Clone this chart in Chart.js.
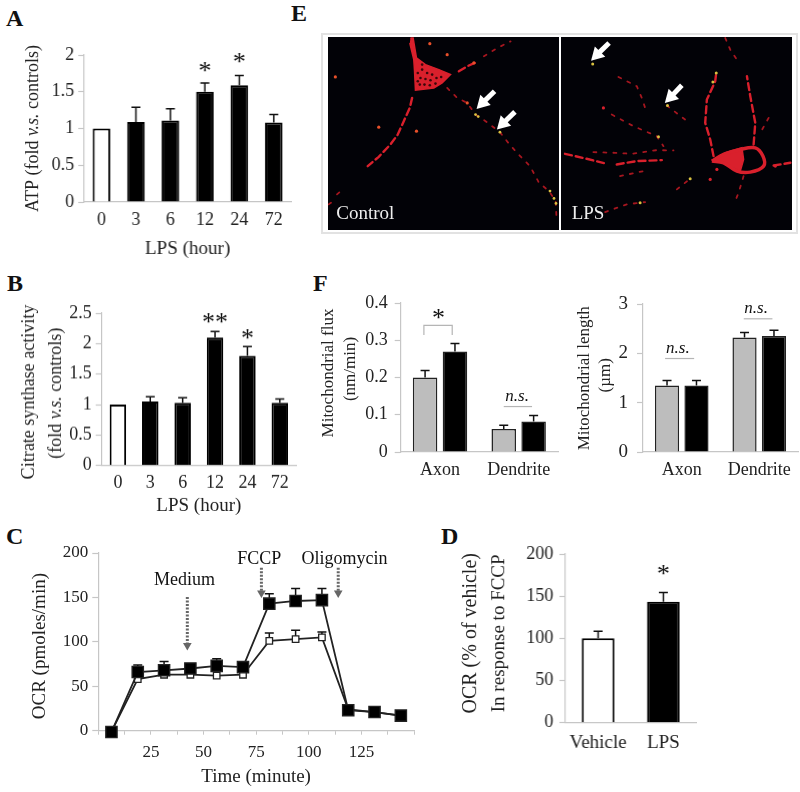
<!DOCTYPE html>
<html lang="en">
<head>
<meta charset="UTF-8">
<title>LPS mitochondria figure</title>
<script src="https://cdn.jsdelivr.net/npm/chart.js"></script>
<style>
  body { margin: 0; background: #fff; width: 800px; height: 792px; overflow: hidden; position: relative; }
  canvas { position: absolute; }
  .letter { position: absolute; font: bold 24px "Liberation Serif", serif; color: #111; line-height: 24px; }
  #frame { position: absolute; left: 321px; top: 33px; width: 473px; height: 197px; border: 2px solid #e2e2e2; }
</style>
</head>
<body>
<div class="letter" style="left:6px;top:6px">A</div>
<div class="letter" style="left:7px;top:271px">B</div>
<div class="letter" style="left:6px;top:524px">C</div>
<div class="letter" style="left:441px;top:524px">D</div>
<div class="letter" style="left:291px;top:1px">E</div>
<div class="letter" style="left:313px;top:271px">F</div>
<div id="frame"></div>

<script>
// Panel A
const hours = ['0', '3', '6', '12', '24', '72'];
const atpValues = [1, 1.09, 1.11, 1.5, 1.59, 1.08];
const atpTops = [null, 1.29, 1.27, 1.62, 1.72, 1.19];

// Panel B
const citrateValues = [1, 1.05, 1.03, 2.1, 1.8, 1.03];
const citrateTops = [null, 1.13, 1.11, 2.2, 1.95, 1.09];

// Panel C
const minutes = [6.25, 18.75, 31.25, 43.75, 56.25, 68.75, 81.25, 93.75, 106.25, 118.75, 131.25, 143.75];
const ocrVehicle = [-1, 58, 63, 63, 62, 63, 101, 103, 105, 24, 21, 17];
const ocrVehicleTops = [null, 60, 70, 70, 70, 68, 110, 113, 111, null, null, null];
const ocrLps = [-1.5, 66, 68, 70, 73, 71.5, 143, 146, 147, 23, 21, 17];
const ocrLpsTops = [null, 74, 78, 75, 81, 76, 154, 160, 160, null, null, null];
const arrowMedium = [[42.3, 150.6], [42.3, 96]];
const arrowFccp = [[77.5, 183.5], [77.5, 155]];
const arrowOligo = [[114, 183.5], [114, 155]];

// Panel D
const ocrGroups = ['Vehicle', 'LPS'];
const fccpValues = [100, 143.5];
const fccpTops = [108.5, 154.5];

// Panel F
const regions = ['Axon', 'Dendrite'];
const fluxControl = [0.2, 0.062];
const fluxControlTops = [0.219, 0.072];
const fluxLps = [0.27, 0.082];
const fluxLpsTops = [0.291, 0.098];
const lengthControl = [1.35, 2.32];
const lengthControlTops = [1.45, 2.42];
const lengthLps = [1.35, 2.35];
const lengthLpsTops = [1.45, 2.47];

// Panel E, traces
const ctrlSoma = [[300,55],[308,55],[318,115],[345,135],[385,150],[420,165],[395,190],[370,205],[315,212],[312,150],[310,120],[298,70]];
const ctrlHoles = [[335,150],[350,160],[365,165],[330,175],[345,178],[360,182],[378,175],[392,172],[328,195],[342,195],[358,197],[375,192],[322,160],[335,135],[322,185]];
const ctrlBold = [
  [[305,235],[298,265],[280,305],[262,345],[240,375],[205,412],[172,440]],
  [[445,155],[470,140],[497,128]]
];
const ctrlTraces = [
  [[520,110],[560,85],[600,65]],
  [[410,205],[440,235],[470,250],[495,285],[525,305],[568,338],[597,375],[622,403],[658,440],[685,490],[715,515],[735,545],[738,605]],
  [[80,525],[95,512]],
  [[55,555],[62,550]]
];
const ctrlDots = [[318,335],[205,323],[410,105],[358,72],[75,172],[470,250],[490,130]];
const ctrlYellow = [[495,285],[503,291],[568,338],[718,515],[730,537],[736,552]];
const ctrlArrows = [[[552,215],[516,250]], [[613,277],[577,312]]];

const lpsSoma = [[1205,425],[1245,400],[1295,385],[1300,420],[1290,455],[1245,435]];
const lpsRing = [[1205,425],[1240,405],[1290,390],[1335,385],[1358,410],[1360,440],[1320,458],[1280,455],[1240,430],[1205,425]];
const lpsBold = [
  [[1210,410],[1200,360],[1185,310],[1190,240],[1215,185],[1218,160]],
  [[1330,375],[1335,310],[1320,230],[1310,170]],
  [[1390,438],[1440,430]],
  [[765,403],[830,418],[890,433]],
  [[920,435],[980,425],[1055,422]]
];
const lpsTraces = [
  [[1375,295],[1350,340]],
  [[1245,55],[1260,90],[1280,120]],
  [[1300,470],[1285,520],[1275,545]],
  [[850,398],[915,400],[965,403],[1040,392],[1090,393]],
  [[905,285],[970,320],[1040,350],[1060,380]],
  [[925,172],[980,200],[995,235],[1010,280]],
  [[1070,258],[1140,312]],
  [[885,578],[950,555],[1005,548]],
  [[1100,510],[1140,478]],
  [[930,470],[1000,455]]
];
const lpsDots = [[1395,440],[880,265],[1220,450],[1200,480]];
const lpsYellow = [[848,133],[1072,258],[1208,187],[1218,160],[1140,478],[990,550],[1045,352]];
const lpsArrows = [[[897,70],[861,105]], [[1115,197],[1082,232]]];

const SERIF = '"Liberation Serif", serif';
const AXIS = '#c6c6c6';
const RED = '#d9202c';
const DIM = '#a5161f';
const YELLOW = '#d8c040';

// error bars go up from the bar or marker to dataset.errTop
const errorBars = {
  id: 'errorBars',
  beforeDatasetsDraw(chart) {
    const c = chart.ctx, ys = chart.scales.y;
    chart.data.datasets.forEach((ds, i) => {
      if (!ds.errTop) return;
      chart.getDatasetMeta(i).data.forEach((el, k) => {
        if (ds.errTop[k] == null) return;
        const y = ys.getPixelForValue(ds.errTop[k]);
        c.save();
        c.strokeStyle = '#111';
        c.lineWidth = 1.5;
        c.beginPath();
        c.moveTo(el.x, el.y); c.lineTo(el.x, y);
        c.moveTo(el.x - 4.5, y); c.lineTo(el.x + 4.5, y);
        c.stroke();
        c.restore();
      });
    });
  }
};

// stars, n.s. labels and brackets, placed in data units
const notes = {
  id: 'notes',
  afterDatasetsDraw(chart, args, opts) {
    const c = chart.ctx, xs = chart.scales.x, ys = chart.scales.y;
    (opts.rules || []).forEach(r => {
      c.save();
      c.strokeStyle = '#b5b5b5';
      c.lineWidth = 1.2;
      c.beginPath();
      r.forEach((p, i) => {
        const px = xs.getPixelForValue(p[0]), py = ys.getPixelForValue(p[1]);
        i ? c.lineTo(px, py) : c.moveTo(px, py);
      });
      c.stroke();
      c.restore();
    });
    (opts.texts || []).forEach(t => {
      c.save();
      c.font = t.font;
      c.fillStyle = t.color || '#111';
      c.textAlign = t.align || 'center';
      c.textBaseline = 'alphabetic';
      c.fillText(t.text, xs.getPixelForValue(t.x), ys.getPixelForValue(t.y));
      c.restore();
    });
  }
};

// rotated y titles, so that v.s. can be italic inside a line
const sideTitles = {
  id: 'sideTitles',
  afterDraw(chart, args, opts) {
    const c = chart.ctx;
    (opts.lines || []).forEach(line => {
      c.save();
      c.translate(line.x, line.y);
      c.rotate(-Math.PI / 2);
      c.textBaseline = 'middle';
      c.fillStyle = '#222';
      const fonts = line.runs.map(r => (r.italic ? 'italic ' : '') + line.size + 'px ' + SERIF);
      let total = 0;
      const widths = line.runs.map((r, i) => { c.font = fonts[i]; const w = c.measureText(r.text).width; total += w; return w; });
      let at = -total / 2;
      line.runs.forEach((r, i) => { c.font = fonts[i]; c.fillText(r.text, at, 0); at += widths[i]; });
      c.restore();
    });
  }
};

const paintBlack = {
  id: 'paintBlack',
  beforeDraw(chart) {
    if (!chart.options.plugins.paintBlack) return;
    const a = chart.chartArea;
    chart.ctx.fillStyle = '#020207';
    chart.ctx.fillRect(a.left, a.top, a.right - a.left, a.bottom - a.top);
  }
};

function star(x, y, text) {
  return { x, y, text: text || '*', font: '26px ' + SERIF };
}
function ns(x, y) {
  return { x, y, text: 'n.s.', font: 'italic 17px ' + SERIF };
}
function side(pageX, pageY, size, runs) {
  return { pageX, pageY, size, runs: runs.map(r => typeof r === 'string' ? { text: r } : r) };
}

// plot = page box of the chart area, left = page x of the canvas, bottom = page y of the x title's foot
function addChart(plot, left, bottom, cfg) {
  // the top pad has to stay above half a tick label plus ticks.padding or the plot gets squeezed
  const topPad = 26, rightPad = Math.min(8, 800 - plot.r);
  const cv = document.createElement('canvas');
  const w = plot.r + rightPad - left, h = bottom - plot.t + topPad;
  const canvasTop = plot.t - topPad;
  cv.width = w; cv.height = h;
  cv.style.left = left + 'px';
  cv.style.top = canvasTop + 'px';
  cv.style.width = w + 'px';
  cv.style.height = h + 'px';
  document.body.appendChild(cv);
  const ax = cfg.scales;
  ax.y.afterFit = s => { s.width = plot.l - left; };
  ax.x.afterFit = s => { s.height = bottom - plot.b; };
  const lines = (cfg.side || []).map(l => ({ x: l.pageX - left, y: l.pageY - canvasTop, size: l.size, runs: l.runs }));
  return new Chart(cv.getContext('2d'), {
    type: cfg.type,
    data: cfg.data,
    plugins: [errorBars, notes, sideTitles, paintBlack],
    options: {
      responsive: false,
      animation: false,
      layout: { autoPadding: false, padding: { top: topPad, right: rightPad } },
      plugins: {
        legend: { display: false },
        tooltip: { enabled: false },
        notes: cfg.notes || {},
        sideTitles: { lines }
      },
      scales: ax
    }
  });
}

function yAxis(max, step, size, pad) {
  return {
    min: 0, max,
    ticks: { stepSize: step, padding: pad || 4, color: '#222', font: { family: SERIF, size }, callback: v => String(+v.toFixed(1)) },
    grid: { drawOnChartArea: false, color: AXIS, tickLength: 6, tickWidth: 1.2 },
    border: { color: AXIS, width: 1.2 }
  };
}
function catAxis(size, pad, title, titleSize) {
  return {
    grid: { display: false, drawTicks: false },
    border: { color: AXIS, width: 1.2 },
    ticks: { padding: pad, color: '#222', font: { family: SERIF, size } },
    title: { display: !!title, text: title, color: '#222', padding: 0,
      font: { family: SERIF, size: titleSize || 19 } }
  };
}
function hourBars(values, tops, pct) {
  return {
    labels: hours,
    datasets: [{
      data: values, errTop: tops,
      backgroundColor: values.map((v, i) => i ? '#000' : '#fff'),
      borderColor: '#000', borderWidth: 2,
      categoryPercentage: 1, barPercentage: pct
    }]
  };
}
function pairBars(a, aTops, b, bTops) {
  const shared = { borderColor: '#222', borderWidth: 1.5, categoryPercentage: 0.76, barPercentage: 0.82 };
  return {
    labels: regions,
    datasets: [
      Object.assign({ data: a, errTop: aTops, backgroundColor: '#bdbdbd' }, shared),
      Object.assign({ data: b, errTop: bTops, backgroundColor: '#000' }, shared)
    ]
  };
}

// A
addChart({ l: 84, t: 54.5, r: 290.5, b: 202 }, 20, 260, {
  type: 'bar',
  data: hourBars(atpValues, atpTops, 0.51),
  scales: { x: catAxis(18, 7, 'LPS (hour)', 19), y: yAxis(2, 0.5, 18) },
  side: [side(33, 128, 18, ['ATP (fold ', { text: 'v.s.', italic: true }, ' controls)'])],
  notes: { texts: [star(3, 1.68), star(4, 1.79)] }
});

// B
addChart({ l: 101.7, t: 313.3, r: 296, b: 465.7 }, 15, 517, {
  type: 'bar',
  data: hourBars(citrateValues, citrateTops, 0.51),
  scales: { x: catAxis(18, 7, 'LPS (hour)', 19), y: yAxis(2.5, 0.5, 18) },
  side: [
    side(29, 391.7, 18, ['Citrate synthase activity']),
    side(56, 393, 18, ['(fold ', { text: 'v.s.', italic: true }, ' controls)'])
  ],
  notes: { texts: [star(3, 2.22, '**'), star(4, 1.95)] }
});

// C
function dottedArrow(pts) {
  return {
    data: pts.map(p => ({ x: p[0], y: p[1] })),
    borderColor: '#666', borderWidth: 3, borderDash: [2, 1.5],
    pointBackgroundColor: '#666', pointBorderWidth: 0,
    pointStyle: 'triangle', pointRotation: 180, pointRadius: [0, 5], order: 3
  };
}
function ocrSeries(values, tops, fill, radius, order) {
  return {
    data: minutes.map((m, i) => ({ x: m, y: values[i] })),
    errTop: tops, borderColor: '#222', borderWidth: 1.8,
    pointStyle: 'rect', pointRadius: radius, pointBackgroundColor: fill,
    pointBorderColor: '#222', pointBorderWidth: 1.3, clip: false, order
  };
}
const cX = catAxis(17, 8, 'Time (minute)', 19);
cX.type = 'linear';
cX.min = 0; cX.max = 150;
cX.grid = { drawOnChartArea: false, color: AXIS, tickLength: 4 };
cX.ticks.stepSize = 12.5;
cX.ticks.autoSkip = false;
cX.ticks.maxRotation = 0;
cX.ticks.callback = v => (v > 0 && v < 150 && v % 25 === 0) ? String(v) : '';
addChart({ l: 98.3, t: 552.7, r: 414.3, b: 730.7 }, 25, 788, {
  type: 'line',
  data: { datasets: [
    ocrSeries(ocrLps, ocrLpsTops, '#000', 8, 1),
    ocrSeries(ocrVehicle, ocrVehicleTops, '#fff', 4.6, 2),
    dottedArrow(arrowMedium), dottedArrow(arrowFccp), dottedArrow(arrowOligo)
  ] },
  scales: { x: cX, y: yAxis(200, 50, 17) },
  side: [side(40, 645.8, 19, ['OCR (pmoles/min)'])],
  notes: { texts: [
    { x: 41, y: 164, text: 'Medium', font: '18px ' + SERIF },
    { x: 76.5, y: 188, text: 'FCCP', font: '18px ' + SERIF },
    { x: 117, y: 188, text: 'Oligomycin', font: '18px ' + SERIF }
  ] }
});

// D
addChart({ l: 565, t: 553.7, r: 695.5, b: 722.7 }, 458, 762, {
  type: 'bar',
  data: {
    labels: ocrGroups,
    datasets: [{
      data: fccpValues, errTop: fccpTops,
      backgroundColor: ['#fff', '#000'], borderColor: '#000', borderWidth: 2,
      categoryPercentage: 1, barPercentage: 0.5
    }]
  },
  scales: { x: catAxis(19, 9), y: yAxis(200, 50, 18, 6) },
  side: [side(471, 633, 20, ['OCR (% of vehicle)']), side(499, 633, 19, ['In response to FCCP'])],
  notes: { texts: [star(1, 167)] }
});

// F left
addChart({ l: 400.7, t: 303, r: 558, b: 452 }, 316, 482, {
  type: 'bar',
  data: pairBars(fluxControl, fluxControlTops, fluxLps, fluxLpsTops),
  scales: { x: catAxis(18, 7), y: yAxis(0.4, 0.1, 18, 7) },
  side: [side(329, 373, 17, ['Mitochondrial flux']), side(351, 369, 17, ['(nm/min)'])],
  notes: {
    texts: [star(-0.02, 0.337), ns(0.98, 0.136)],
    rules: [[[-0.205, 0.314], [-0.205, 0.34], [0.155, 0.34], [0.155, 0.314]], [[0.81, 0.122], [1.17, 0.122]]]
  }
});

// F right
addChart({ l: 643, t: 303.7, r: 798, b: 452 }, 572, 482, {
  type: 'bar',
  data: pairBars(lengthControl, lengthControlTops, lengthLps, lengthLpsTops),
  scales: { x: catAxis(18, 7), y: yAxis(3, 1, 19, 9) },
  side: [side(585, 378, 17, ['Mitochondrial length']), side(606, 375, 17, ['(µm)'])],
  notes: {
    texts: [ns(-0.05, 2.0), ns(0.96, 2.82)],
    rules: [[[-0.215, 1.895], [0.16, 1.895]], [[0.8, 2.7], [1.17, 2.7]]]
  }
});

// E, micrographs on hidden axes in picture units
function toXY(list) { return list.map(p => ({ x: p[0], y: p[1] })); }
function trace(list) {
  return { data: toXY(list), borderColor: DIM, borderWidth: 1.8, borderCapStyle: 'round',
    borderDash: [3, 7], pointRadius: 0 };
}
function boldTrace(list) {
  return { data: toXY(list), borderColor: RED, borderWidth: 2.4, borderCapStyle: 'round',
    borderDash: [7, 4], pointRadius: 0 };
}
function dots(list, color, r) {
  return { data: toXY(list), showLine: false, pointRadius: r, pointBorderWidth: 0, pointBackgroundColor: color };
}
function whiteArrow(list) {
  return { data: toXY(list), borderColor: '#fff', borderWidth: 5, borderCapStyle: 'butt',
    pointStyle: 'triangle', pointRotation: 225, pointRadius: [0, 8.5], pointBackgroundColor: '#fff', pointBorderWidth: 0 };
}
function microChart(left, xMin, xMax, sets, label) {
  const cv = document.createElement('canvas');
  cv.width = 231; cv.height = 193;
  cv.style.left = left + 'px';
  cv.style.top = '37px';
  document.body.appendChild(cv);
  new Chart(cv.getContext('2d'), {
    type: 'line',
    data: { datasets: sets },
    plugins: [notes, paintBlack],
    options: {
      responsive: false,
      animation: false,
      layout: { autoPadding: false },
      plugins: { legend: { display: false }, tooltip: { enabled: false }, paintBlack: true, notes: { texts: [label] } },
      scales: {
        x: { type: 'linear', display: false, min: xMin, max: xMax },
        y: { display: false, min: 52, max: 632, reverse: true }
      }
    }
  });
}
microChart(327.5, 53, 745, [
  ...ctrlArrows.map(whiteArrow),
  dots(ctrlHoles, '#3a070b', 1.3),
  dots(ctrlYellow, YELLOW, 1.4),
  dots(ctrlDots, '#e8502a', 1.6),
  ...ctrlTraces.map(l => trace(l)),
  ...ctrlBold.map(l => boldTrace(l)),
  { data: toXY(ctrlSoma), fill: 'shape', backgroundColor: RED, borderColor: RED, borderWidth: 1.5, pointRadius: 0 }
], { x: 78, y: 600, text: 'Control', align: 'left', color: '#eee', font: '19px ' + SERIF });
microChart(561, 753, 1445, [
  ...lpsArrows.map(whiteArrow),
  dots(lpsYellow, YELLOW, 1.5),
  dots(lpsDots, RED, 1.6),
  ...lpsTraces.map(l => trace(l)),
  ...lpsBold.map(l => boldTrace(l)),
  { data: toXY(lpsRing), borderColor: RED, borderWidth: 3.5, tension: 0.35, pointRadius: 0 },
  { data: toXY(lpsSoma), fill: 'shape', backgroundColor: RED, borderColor: RED, borderWidth: 1.5, pointRadius: 0 }
], { x: 785, y: 600, text: 'LPS', align: 'left', color: '#eee', font: '19px ' + SERIF });
</script>
</body>
</html>
